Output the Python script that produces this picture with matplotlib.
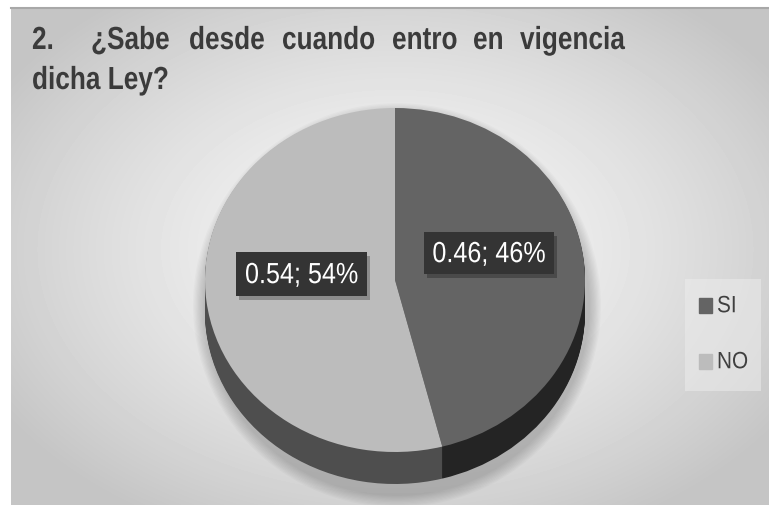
import numpy as np
import matplotlib
matplotlib.use("Agg")
import matplotlib.pyplot as plt
from matplotlib.patches import Rectangle, Ellipse
from matplotlib.patheffects import AbstractPathEffect
from matplotlib.transforms import Affine2D

categories = ["SI", "NO"]
values = [0.46, 0.54]
label_texts = ["0.46; 46%", "0.54; 54%"]
title_words = ["2.", "¿Sabe", "desde", "cuando", "entro", "en", "vigencia"]
title_line2 = "dicha Ley?"

top_colors = ["#646464", "#bcbcbc"]
side_colors = ["#242424", "#4e4e4e"]

W, H = 769, 506
fig = plt.figure(figsize=(W / 100, H / 100), dpi=100)


class Stretch(AbstractPathEffect):
    """Stretch glyphs vertically about a fixed display y (narrow-font look)."""
    def __init__(self, y0, sy):
        super().__init__()
        self.y0 = y0
        self.sy = sy

    def draw_path(self, renderer, gc, tpath, affine, rgbFace=None):
        t = affine + Affine2D().translate(0, -self.y0).scale(1, self.sy).translate(0, self.y0)
        renderer.draw_path(gc, tpath, t, rgbFace)


def pixel_axes(z):
    a = fig.add_axes([0, 0, 1, 1])
    a.set_xlim(0, W)
    a.set_ylim(H, 0)
    a.axis("off")
    a.set_zorder(z)
    a.patch.set_visible(False)
    return a


bg = pixel_axes(0)

# radial gradient background panel
x0, y0 = 11, 8
yy, xx = np.mgrid[y0:H, x0:W]
d = np.sqrt(((xx - 395) / 470.0) ** 2 + ((yy - 250) / 320.0) ** 2)
shade = np.clip(0.965 - 0.2 * d ** 1.5, 0.77, 0.965)
bg.imshow(shade, cmap="gray", vmin=0, vmax=1, extent=[x0, W, H, y0],
          interpolation="bilinear", aspect="auto", zorder=0)
bg.plot([x0, W], [y0 + 0.5, y0 + 0.5], color="#a8a8a8", lw=1.5, zorder=1)
bg.set_xlim(0, W)
bg.set_ylim(H, 0)

# legend panel (faint)
bg.add_patch(Rectangle((685, 280), 76, 112, fc="#ececec", alpha=0.55, ec="none", zorder=2))

# pie geometry in pixels
cx, cy, rx, ry, depth = 395, 281, 190, 172, 32

# soft shadow
for k in range(10):
    bg.add_patch(Ellipse((cx + 2, cy + depth * 0.6 + 6), 2 * rx + 28 - 2.5 * k,
                         2 * ry + depth + 28 - 2.5 * k, fc="black", alpha=0.018,
                         ec="none", zorder=3))


def pie_axes(offset):
    left = (cx - rx) / W
    bottom = 1 - (cy + offset + ry) / H
    a = fig.add_axes([left, bottom, 2 * rx / W, 2 * ry / H])
    a.set_zorder(2)
    a.patch.set_visible(False)
    return a


for off in range(depth, 0, -1):
    a = pie_axes(off)
    a.pie(values, colors=side_colors, startangle=90, counterclock=False,
          wedgeprops=dict(linewidth=0))
    a.set_aspect("auto")
    a.set_xlim(-1, 1)
    a.set_ylim(-1, 1)

a = pie_axes(0)
a.pie(values, colors=top_colors, startangle=90, counterclock=False,
      wedgeprops=dict(linewidth=0))
a.set_aspect("auto")
a.set_xlim(-1, 1)
a.set_ylim(-1, 1)

ov = pixel_axes(5)
fam = ["Liberation Sans", "DejaVu Sans"]

fig.canvas.draw()
renderer = fig.canvas.get_renderer()


def narrow_factor(s, fontsize, width, **kw):
    t = ov.text(0, 0, s, family=fam, fontsize=fontsize, **kw)
    w = t.get_window_extent(renderer).width
    t.remove()
    return width / w


def narrow_text(x, y, s, fontsize, sx, **kw):
    t = ov.text(x, y, s, family=fam, fontsize=fontsize * sx, **kw)
    ydisp = ov.transData.transform((x, y))[1]
    t.set_path_effects([Stretch(ydisp, 1.0 / sx)])
    return t


# title
tkw = dict(fontweight="bold", color="#3b3b3b", va="baseline", ha="left")
sx_t = narrow_factor(title_line2, 23, 137, fontweight="bold")
word_x = [32, 91, 189, 282, 392, 473, 520]
for wx, w in zip(word_x, title_words):
    narrow_text(wx, 50, w, 23, sx_t, **tkw)
narrow_text(32, 90, title_line2, 23, sx_t, **tkw)

# data labels
boxes = [(424, 233, 130, 42), (236, 253, 131, 44)]
for (bx, by, bw, bh), s in zip(boxes, label_texts):
    ov.add_patch(Rectangle((bx + 3, by + 4), bw, bh, fc="black", alpha=0.25, ec="none"))
    ov.add_patch(Rectangle((bx, by), bw, bh, fc="#343434", ec="none"))
    sx = narrow_factor(s, 21, 113)
    narrow_text(bx + bw / 2, by + bh / 2 + 1, s, 21, sx, color="white",
                ha="center", va="center")

# legend
leg_y = [307, 363]
sx_l = narrow_factor("NO", 17, 31)
for c, lab, ly in zip(top_colors, categories, leg_y):
    ov.add_patch(Rectangle((699, ly - 8), 13, 15, color=c))
    narrow_text(717, ly, lab, 17, sx_l, color="#404040", va="center", ha="left")

fig.savefig("out.png", dpi=100)
